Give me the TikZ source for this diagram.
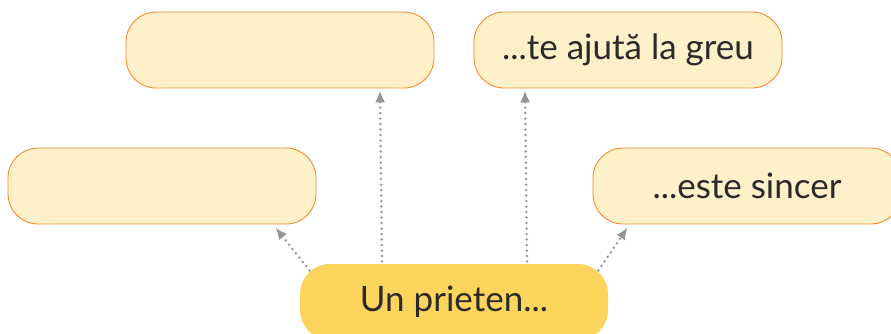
\documentclass[tikz,border=0pt]{standalone}
\usepackage{fontspec}
\setmainfont{Lato}
\usepackage{tikz}
\usetikzlibrary{arrows.meta}
\usetikzlibrary{positioning}
\usetikzlibrary{calc}
\definecolor{boxfill}{HTML}{FEF0C9}
\definecolor{boxline}{HTML}{F58A2E}
\definecolor{rootfill}{HTML}{FDD55C}
\definecolor{linkgray}{HTML}{939598}
\definecolor{inkdark}{HTML}{2B2A29}
\tikzset{
  idea/.style={draw=boxline, line width=0.9pt, fill=boxfill, rectangle, rounded corners=30pt,
    minimum width=308pt, minimum height=76pt, text=inkdark, font=\fontsize{35}{40}\selectfont},
  root/.style={idea, draw=none, fill=rootfill},
  link/.style={draw=linkgray, line width=2.7pt, line cap=round, dash pattern=on 0pt off 5.5pt,
    -{Latex[length=12pt,width=10pt]}}
}

\begin{document}
\begin{tikzpicture}[x=1pt, y=-1pt]
    \useasboundingbox (0,0) rectangle (891,333);

    % Place nodes
    \node [root] (prieten) at (454,302) {Un prieten...};
    \node [idea] (sus1) at (280,50) {};
    \node [idea] (sus2) at (628,50) {...te ajută la greu};
    \node [idea] (mij1) at (162,186) {};
    \node [idea] (mij2) at (747,186) {...este sincer};

    % Draw links
    \draw [link] ([xshift=10pt,yshift=-7pt]prieten.north west) -- ([xshift=-41pt,yshift=-3pt]mij1.south east);
    \draw [link] ([xshift=-72pt,yshift=2pt]prieten.north) -- ([xshift=100pt,yshift=-2pt]sus1.south);
    \draw [link] ([xshift=73pt,yshift=2pt]prieten.north) -- ([xshift=-103pt,yshift=-2pt]sus2.south);
    \draw [link] ([xshift=-10pt,yshift=-7pt]prieten.north east) -- ([xshift=35pt,yshift=-3pt]mij2.south west);
\end{tikzpicture}
\end{document}
